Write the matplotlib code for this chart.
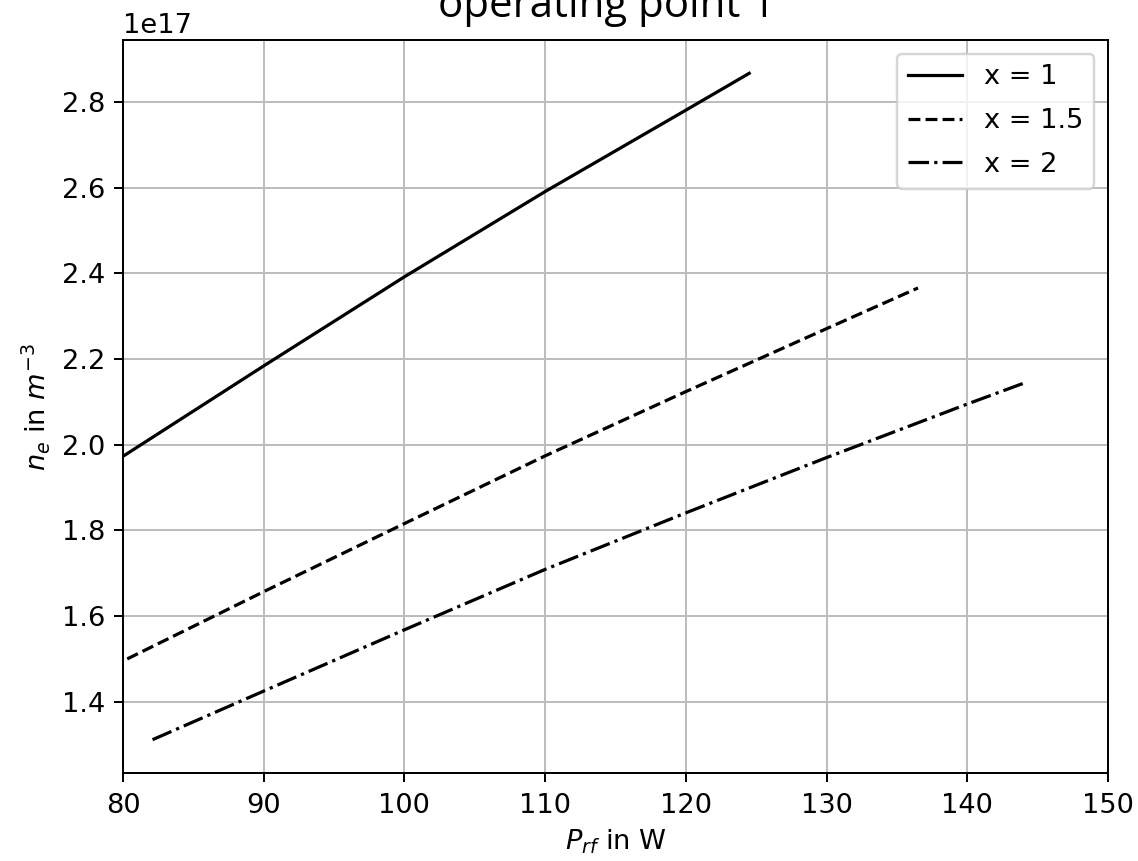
import matplotlib
matplotlib.use("Agg")
import matplotlib.pyplot as plt

# P_rf in W and n_e (in 1e17 m^-3) for each x
p_x1 = [80.0, 90.0, 100.0, 110.0, 120.0, 124.5]
ne_x1 = [1.973, 2.184, 2.392, 2.591, 2.781, 2.867]

p_x15 = [80.3, 90.0, 100.0, 110.0, 120.0, 130.0, 136.5]
ne_x15 = [1.500, 1.657, 1.816, 1.974, 2.124, 2.271, 2.366]

p_x2 = [82.1, 90.0, 100.0, 110.0, 120.0, 130.0, 140.0, 144.2]
ne_x2 = [1.3115, 1.425, 1.568, 1.709, 1.841, 1.970, 2.095, 2.146]

labels = ["x = 1", "x = 1.5", "x = 2"]
title = "operating point 1"

plt.rcParams["font.size"] = 11

fig = plt.figure(figsize=(1138 / 178, 861 / 178), dpi=178)
ax = fig.add_axes([123 / 1138, 1 - 773 / 861, (1108 - 123) / 1138, (773 - 40) / 861])

lw = 1.3
ax.plot(p_x1, [v * 1e17 for v in ne_x1], color="black", linestyle="-", lw=lw, label=labels[0])
ax.plot(p_x15, [v * 1e17 for v in ne_x15], color="black", linestyle="--", lw=lw, label=labels[1])
ax.plot(p_x2, [v * 1e17 for v in ne_x2], color="black", linestyle="-.", lw=lw, label=labels[2])

ax.set_xlim(80, 150)
ax.grid(True, color="#bdbdbd")
ax.tick_params(axis="x", pad=4.5)
ax.set_xlabel(r"$P_{rf}$ in W", labelpad=3.5)
ax.set_ylabel(r"$n_e$ in $m^{-3}$")
ax.legend(loc="upper right", labelspacing=0.65)

fig.text((123 + 1108) / 2 / 1138 - 0.008, 1 - 17 / 861, title, ha="center", va="baseline",
         fontsize=17, family=["Open Sans", "DejaVu Sans"])

fig.savefig("out.png", dpi=178)
